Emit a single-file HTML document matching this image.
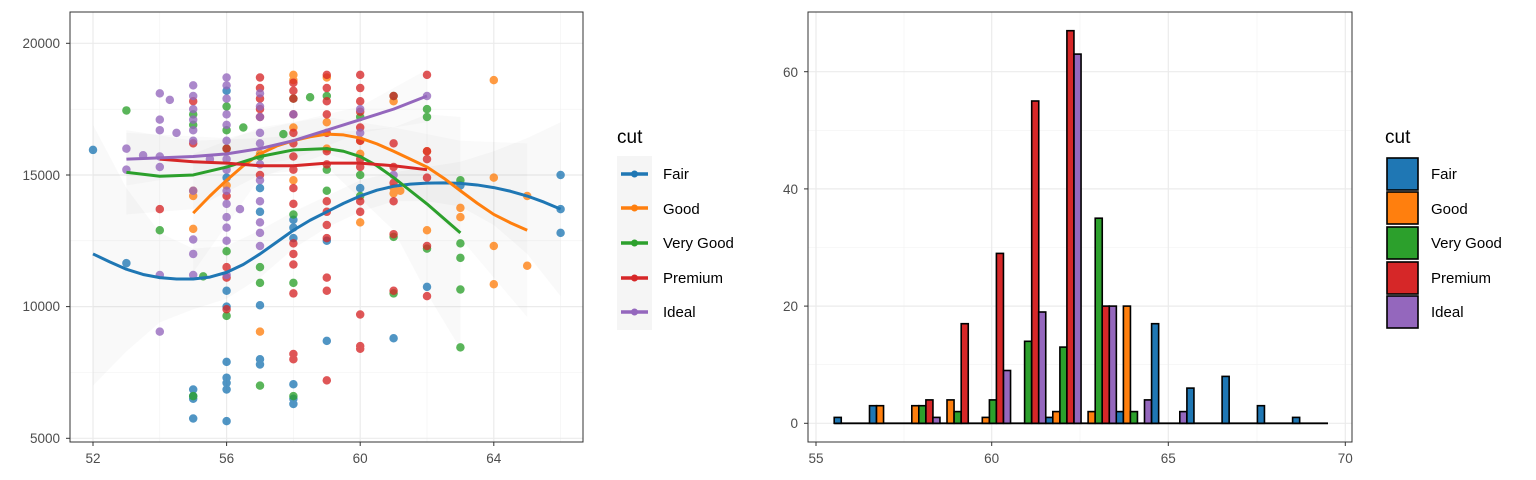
<!DOCTYPE html>
<html><head><meta charset="utf-8"><style>
html,body{margin:0;padding:0;background:#fff;}
svg{display:block;font-family:"Liberation Sans",sans-serif;}
</style></head><body>
<svg width="1536" height="480" viewBox="0 0 1536 480" xmlns="http://www.w3.org/2000/svg">
<rect width="1536" height="480" fill="#fff"/>
<g stroke="#f2f2f2" stroke-width="0.6">
<line x1="70" x2="583" y1="372.5" y2="372.5"/><line x1="70" x2="583" y1="240.8" y2="240.8"/><line x1="70" x2="583" y1="109.2" y2="109.2"/>
<line x1="159.8" x2="159.8" y1="12" y2="442"/><line x1="293.4" x2="293.4" y1="12" y2="442"/><line x1="427" x2="427" y1="12" y2="442"/><line x1="560.6" x2="560.6" y1="12" y2="442"/>
</g>
<g stroke="#ebebeb" stroke-width="1.2">
<line x1="70" x2="583" y1="438.3" y2="438.3"/><line x1="70" x2="583" y1="306.6" y2="306.6"/><line x1="70" x2="583" y1="175" y2="175"/><line x1="70" x2="583" y1="43.3" y2="43.3"/>
<line x1="93" x2="93" y1="12" y2="442"/><line x1="226.6" x2="226.6" y1="12" y2="442"/><line x1="360.2" x2="360.2" y1="12" y2="442"/><line x1="493.8" x2="493.8" y1="12" y2="442"/>
</g>
<g transform="matrix(33.4,0,0,-26.33,-1643.8,569.9)">
<polygon fill="#999" fill-opacity="0.06" points="52,16.9 53,14.5 54,12.8 55,12.2 56,12.3 57,12.9 58,13.6 59,14.2 60,14.8 61,15.1 62,15.3 63,15.5 64,15.9 65,16.4 66,17 66,10.4 65,12 64,13.1 63,13.8 62,14 61,14 60,13.6 59,13 58,12.2 57,11.1 56,10.3 55,9.9 54,9.4 53,8.3 52,7"/>
<polygon fill="#999" fill-opacity="0.06" points="53,16.7 55,16.3 57,16.4 59,16.6 61,16.8 62,17.3 63,17.2 63,8.4 62,10.5 61,12.9 59,15.3 57,15.0 55,13.7 53,13.5"/>
<polygon fill="#999" fill-opacity="0.05" points="55,15.8 57,16.8 59,17.2 61,16.8 63,16.3 65,16.2 65,9.6 63,12.6 61,15 59,15.8 57,14.9 55,11.3"/>
<polygon fill="#999" fill-opacity="0.05" points="53,16.6 56,16.4 58,17 60,17.6 62,19 62,17 60,16.6 58,15.6 56,15.2 53,14.6"/>
<g fill="none" stroke-linecap="round" stroke-width="8.5" stroke-opacity="0.78">
<path vector-effect="non-scaling-stroke" stroke="#1f77b4" d="M52 15.95h0M53 11.65h0M55 6.85h0M55 6.6h0M55 6.5h0M55 5.75h0M56 10.6h0M56 10h0M56 7.9h0M56 7.3h0M56 7.1h0M56 6.85h0M56 5.65h0M56 14.9h0M57 10.05h0M57 8h0M57 7.8h0M58 7.05h0M58 6.5h0M58 6.3h0M58 13h0M58 13.3h0M59 8.7h0M59 12.5h0M61 8.8h0M62 10.75h0M66 15h0M66 13.7h0M66 12.8h0M56 18.2h0M57 13.6h0M60 14.5h0M63 14.6h0M57 14.5h0M58 12.6h0"/>
<path vector-effect="non-scaling-stroke" stroke="#ff7f0e" d="M55 14.2h0M55 14.4h0M55 12.95h0M57 9.05h0M58 18.8h0M58 18.6h0M59 18.7h0M59 17h0M60 16.3h0M60 15.8h0M60 13.2h0M61 17.8h0M61 14.3h0M62 15.9h0M63 13.75h0M63 13.4h0M64 18.6h0M64 14.9h0M64 12.3h0M64 10.85h0M65 14.2h0M65 11.55h0M61 14.5h0M56 14.6h0M57 15.8h0M58 16.8h0M61.2 14.4h0M62 12.9h0M58 14.8h0M59 16h0"/>
<path vector-effect="non-scaling-stroke" stroke="#2ca02c" d="M53 17.45h0M54 12.9h0M55.3 11.15h0M55 6.6h0M56 12.1h0M56 9.65h0M56 16.7h0M56 17.6h0M57 11.5h0M57 10.9h0M57 7h0M57 15.7h0M58 17.9h0M58 13.5h0M58 10.9h0M58 6.6h0M58.5 17.95h0M59 15.2h0M59 18h0M60 15h0M60 17.2h0M61 18h0M61 12.65h0M61 10.5h0M62 17.5h0M62 17.2h0M62 12.2h0M63 14.8h0M63 12.4h0M63 11.85h0M63 10.65h0M63 8.45h0M56.5 16.8h0M57.7 16.55h0M55 16.9h0M55 17.3h0M56 16h0M59 14.4h0M60 14.2h0"/>
<path vector-effect="non-scaling-stroke" stroke="#d62728" d="M54 13.7h0M56 9.9h0M56 11.5h0M56 16h0M57 18.7h0M57 17.5h0M57 15h0M58 18.5h0M58 17.3h0M58 14.5h0M58 10.5h0M58 8.2h0M58 8h0M59 18.8h0M59 11.1h0M59 10.6h0M59 7.2h0M60 18.8h0M60 18.3h0M60 16.3h0M60 15.3h0M60 9.7h0M60 8.5h0M60 8.4h0M61 14.7h0M61 14h0M61 12.75h0M61 10.6h0M62 18.8h0M62 15.9h0M62 14.9h0M62 12.3h0M62 10.4h0M56 14.2h0M61 15.3h0M62 15.6h0M61 16.2h0M61 18h0M55 16.2h0M55 17.8h0M56 11.1h0M58 11.6h0M58 12h0M58 12.4h0M58 13.9h0M58 15.2h0M58 15.7h0M58 16.2h0M58 16.6h0M58 17.9h0M58 18.2h0M59 12.6h0M59 13.1h0M59 13.6h0M59 14h0M59 15.4h0M59 15.9h0M59 16.6h0M59 17.3h0M59 17.8h0M59 18.3h0M60 13.6h0M60 14h0M60 15.6h0M60 16.8h0M60 17.4h0M60 17.8h0M57 17.2h0M57 17.9h0M57 18.3h0"/>
<path vector-effect="non-scaling-stroke" stroke="#9467bd" d="M53 16h0M53 15.2h0M54 18.1h0M54 17.1h0M54 16.7h0M54 15.7h0M54 15.3h0M54 11.2h0M54 9.05h0M54.3 17.85h0M54.5 16.6h0M55 16.3h0M55 16.7h0M55 17.1h0M55 17.5h0M55 18h0M55 18.4h0M55 14.4h0M55 12.55h0M55 11.2h0M55 12h0M56 13.4h0M56 13.9h0M56 14.4h0M56 15.2h0M56 15.6h0M56 16.3h0M56 16.9h0M56 17.3h0M56 17.9h0M56 18.4h0M56 18.7h0M56 13h0M56 12.5h0M56 11.2h0M56.4 13.7h0M57 12.3h0M57 12.8h0M57 13.2h0M57 14h0M57 14.8h0M57 15.4h0M57 16.2h0M57 16.6h0M57 17.2h0M57 17.6h0M57 18.1h0M58 17.3h0M60 16.6h0M61 15h0M62 18h0M55.5 15.6h0M53.5 15.75h0M60 17.5h0"/>
</g>
<g fill="none" stroke-width="3" stroke-linejoin="round">
<polyline vector-effect="non-scaling-stroke" stroke="#1f77b4" points="52,12 52.5,11.7 53,11.42 53.5,11.22 54,11.1 54.5,11.05 55,11.05 55.5,11.12 56,11.3 56.5,11.6 57,12 57.5,12.45 58,12.9 58.5,13.28 59,13.6 59.5,13.92 60,14.2 60.5,14.42 61,14.57 61.5,14.65 62,14.69 62.5,14.7 63,14.68 63.5,14.62 64,14.52 64.5,14.38 65,14.2 65.5,13.97 66,13.7"/>
<polyline vector-effect="non-scaling-stroke" stroke="#ff7f0e" points="55,13.55 55.5,14.2 56,14.8 56.5,15.35 57,15.8 57.5,16.1 58,16.3 58.5,16.45 59,16.55 59.5,16.52 60,16.4 60.5,16.18 61,15.9 61.5,15.6 62,15.3 62.5,14.88 63,14.4 63.5,13.93 64,13.5 64.5,13.18 65,12.9"/>
<polyline vector-effect="non-scaling-stroke" stroke="#2ca02c" points="53,15.1 54,14.95 55,15 56,15.3 57,15.7 58,15.95 59,16 59.5,15.9 60,15.7 60.5,15.35 61,14.9 61.5,14.4 62,13.9 62.5,13.35 63,12.8"/>
<polyline vector-effect="non-scaling-stroke" stroke="#d62728" points="54,15.6 55,15.5 56,15.45 57,15.35 58,15.35 59,15.45 60,15.45 61,15.35 62,15.2"/>
<polyline vector-effect="non-scaling-stroke" stroke="#9467bd" points="53,15.6 54,15.65 55,15.7 56,15.8 57,16 58,16.3 59,16.7 60,17.1 61,17.5 62,18"/>
</g>
</g>
<rect x="70" y="12" width="513" height="430" fill="none" stroke="#333" stroke-width="1"/>
<g stroke="#333" stroke-width="1">
<line x1="66" x2="70" y1="438.3" y2="438.3"/><line x1="66" x2="70" y1="306.6" y2="306.6"/><line x1="66" x2="70" y1="175" y2="175"/><line x1="66" x2="70" y1="43.3" y2="43.3"/>
<line x1="93" x2="93" y1="442" y2="446"/><line x1="226.6" x2="226.6" y1="442" y2="446"/><line x1="360.2" x2="360.2" y1="442" y2="446"/><line x1="493.8" x2="493.8" y1="442" y2="446"/>
</g>
<g fill="#4d4d4d" font-size="13.5" text-anchor="end">
<text x="60" y="443">5000</text><text x="60" y="311">10000</text><text x="60" y="180">15000</text><text x="60" y="48">20000</text>
</g>
<g fill="#4d4d4d" font-size="13.5" text-anchor="middle">
<text x="93" y="463">52</text><text x="226.6" y="463">56</text><text x="360.2" y="463">60</text><text x="493.8" y="463">64</text>
</g>
<text x="617" y="143" font-size="19" fill="#000">cut</text>
<rect x="617" y="156" width="35" height="174" fill="#f5f5f5"/>
<g stroke-width="3.5">
<line x1="621" x2="648" y1="174" y2="174" stroke="#1f77b4"/><circle cx="634.5" cy="174" r="3.5" fill="#1f77b4"/>
<line x1="621" x2="648" y1="208" y2="208" stroke="#ff7f0e"/><circle cx="634.5" cy="208" r="3.5" fill="#ff7f0e"/>
<line x1="621" x2="648" y1="243" y2="243" stroke="#2ca02c"/><circle cx="634.5" cy="243" r="3.5" fill="#2ca02c"/>
<line x1="621" x2="648" y1="278" y2="278" stroke="#d62728"/><circle cx="634.5" cy="278" r="3.5" fill="#d62728"/>
<line x1="621" x2="648" y1="312" y2="312" stroke="#9467bd"/><circle cx="634.5" cy="312" r="3.5" fill="#9467bd"/>
</g>
<g font-size="15" fill="#000">
<text x="663" y="179">Fair</text><text x="663" y="214">Good</text><text x="663" y="248">Very Good</text><text x="663" y="283">Premium</text><text x="663" y="317">Ideal</text>
</g>

<g stroke="#f2f2f2" stroke-width="0.6">
<line x1="808" x2="1352" y1="364.7" y2="364.7"/><line x1="808" x2="1352" y1="247.5" y2="247.5"/><line x1="808" x2="1352" y1="130.3" y2="130.3"/>
<line x1="904" x2="904" y1="12" y2="442"/><line x1="1080" x2="1080" y1="12" y2="442"/><line x1="1257" x2="1257" y1="12" y2="442"/>
</g>
<g stroke="#ebebeb" stroke-width="1.2">
<line x1="808" x2="1352" y1="423.3" y2="423.3"/><line x1="808" x2="1352" y1="306.1" y2="306.1"/><line x1="808" x2="1352" y1="188.9" y2="188.9"/><line x1="808" x2="1352" y1="71.7" y2="71.7"/>
<line x1="816" x2="816" y1="12" y2="442"/><line x1="991.7" x2="991.7" y1="12" y2="442"/><line x1="1168.3" x2="1168.3" y1="12" y2="442"/><line x1="1345.3" x2="1345.3" y1="12" y2="442"/>
</g>
<line x1="834.2" x2="1328" y1="423.3" y2="423.3" stroke="#000" stroke-width="1.8"/>
<g stroke="#000" stroke-width="1.6">
<rect fill="#1f77b4" x="834.2" y="417.4" width="7.05" height="5.9"/>
<rect fill="#1f77b4" x="869.5" y="405.7" width="7.05" height="17.6"/>
<rect fill="#ff7f0e" x="876.5" y="405.7" width="7.05" height="17.6"/>
<rect fill="#ff7f0e" x="911.8" y="405.7" width="7.05" height="17.6"/>
<rect fill="#2ca02c" x="918.8" y="405.7" width="7.05" height="17.6"/>
<rect fill="#d62728" x="925.9" y="399.9" width="7.05" height="23.4"/>
<rect fill="#9467bd" x="932.9" y="417.4" width="7.05" height="5.9"/>
<rect fill="#ff7f0e" x="947.0" y="399.9" width="7.05" height="23.4"/>
<rect fill="#2ca02c" x="954.1" y="411.6" width="7.05" height="11.7"/>
<rect fill="#d62728" x="961.2" y="323.7" width="7.05" height="99.6"/>
<rect fill="#ff7f0e" x="982.3" y="417.4" width="7.05" height="5.9"/>
<rect fill="#2ca02c" x="989.4" y="399.9" width="7.05" height="23.4"/>
<rect fill="#d62728" x="996.4" y="253.4" width="7.05" height="169.9"/>
<rect fill="#9467bd" x="1003.5" y="370.5" width="7.05" height="52.8"/>
<rect fill="#2ca02c" x="1024.6" y="341.3" width="7.05" height="82"/>
<rect fill="#d62728" x="1031.7" y="101.0" width="7.05" height="322.3"/>
<rect fill="#9467bd" x="1038.7" y="312.0" width="7.05" height="111.3"/>
<rect fill="#1f77b4" x="1045.8" y="417.4" width="7.05" height="5.9"/>
<rect fill="#ff7f0e" x="1052.8" y="411.6" width="7.05" height="11.7"/>
<rect fill="#2ca02c" x="1059.9" y="347.1" width="7.05" height="76.2"/>
<rect fill="#d62728" x="1066.9" y="30.7" width="7.05" height="392.6"/>
<rect fill="#9467bd" x="1074.0" y="54.1" width="7.05" height="369.2"/>
<rect fill="#ff7f0e" x="1088.1" y="411.6" width="7.05" height="11.7"/>
<rect fill="#2ca02c" x="1095.2" y="218.2" width="7.05" height="205.1"/>
<rect fill="#d62728" x="1102.2" y="306.1" width="7.05" height="117.2"/>
<rect fill="#9467bd" x="1109.3" y="306.1" width="7.05" height="117.2"/>
<rect fill="#1f77b4" x="1116.3" y="411.6" width="7.05" height="11.7"/>
<rect fill="#ff7f0e" x="1123.4" y="306.1" width="7.05" height="117.2"/>
<rect fill="#2ca02c" x="1130.4" y="411.6" width="7.05" height="11.7"/>
<rect fill="#9467bd" x="1144.5" y="399.9" width="7.05" height="23.4"/>
<rect fill="#1f77b4" x="1151.6" y="323.7" width="7.05" height="99.6"/>
<rect fill="#9467bd" x="1179.8" y="411.6" width="7.05" height="11.7"/>
<rect fill="#1f77b4" x="1186.9" y="388.1" width="7.05" height="35.2"/>
<rect fill="#1f77b4" x="1222.1" y="376.4" width="7.05" height="46.9"/>
<rect fill="#1f77b4" x="1257.4" y="405.7" width="7.05" height="17.6"/>
<rect fill="#1f77b4" x="1292.6" y="417.4" width="7.05" height="5.9"/>
</g>
<rect x="808" y="12" width="544" height="430" fill="none" stroke="#333" stroke-width="1"/>
<g stroke="#333" stroke-width="1">
<line x1="804" x2="808" y1="423.3" y2="423.3"/><line x1="804" x2="808" y1="306.1" y2="306.1"/><line x1="804" x2="808" y1="188.9" y2="188.9"/><line x1="804" x2="808" y1="71.7" y2="71.7"/>
<line x1="816" x2="816" y1="442" y2="446"/><line x1="991.7" x2="991.7" y1="442" y2="446"/><line x1="1168.3" x2="1168.3" y1="442" y2="446"/><line x1="1345.3" x2="1345.3" y1="442" y2="446"/>
</g>
<g fill="#4d4d4d" font-size="13.5" text-anchor="end">
<text x="798" y="428">0</text><text x="798" y="311">20</text><text x="798" y="194">40</text><text x="798" y="77">60</text>
</g>
<g fill="#4d4d4d" font-size="13.5" text-anchor="middle">
<text x="816" y="463">55</text><text x="991.7" y="463">60</text><text x="1168.3" y="463">65</text><text x="1345.3" y="463">70</text>
</g>
<text x="1385" y="143" font-size="19" fill="#000">cut</text>
<g stroke="#000" stroke-width="1.6">
<rect x="1387" y="158" width="31" height="32" fill="#1f77b4"/>
<rect x="1387" y="192" width="31" height="32" fill="#ff7f0e"/>
<rect x="1387" y="227" width="31" height="32" fill="#2ca02c"/>
<rect x="1387" y="262" width="31" height="32" fill="#d62728"/>
<rect x="1387" y="296" width="31" height="32" fill="#9467bd"/>
</g>
<g font-size="15" fill="#000">
<text x="1431" y="179">Fair</text><text x="1431" y="214">Good</text><text x="1431" y="248">Very Good</text><text x="1431" y="283">Premium</text><text x="1431" y="317">Ideal</text>
</g>
</svg>
</body></html>
